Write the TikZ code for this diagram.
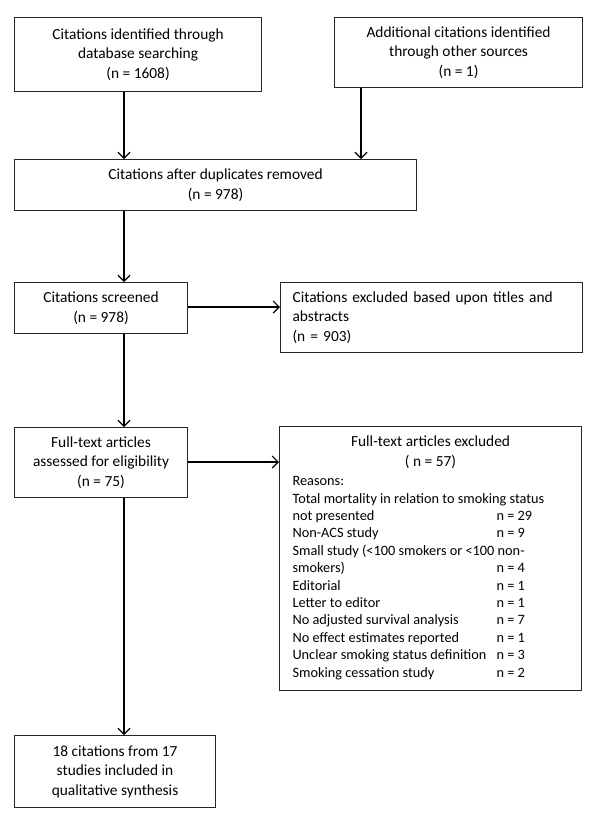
\documentclass[tikz,border=0pt]{standalone}
\usepackage{fontspec}
\setmainfont{Carlito}
\usepackage{array}
\usetikzlibrary{arrows.meta}
\begin{document}
\begin{tikzpicture}[x=1pt,y=-1pt,
  box/.style={draw=black!85, line width=1.1pt, inner sep=0pt, anchor=north west,
    font=\fontsize{15.4}{19.5}\selectfont, align=center},
  arr/.style={draw=black, line width=1.2pt,
    -{Straight Barb[length=6pt,width=12pt,line width=1.2pt]}}]
\useasboundingbox[fill=white] (0,0) rectangle (600,823);

\node[box, minimum width=247, minimum height=74] (b1) at (14,17)
  {Citations identified through\\database searching\\(n = 1608)};
\node[box, minimum width=248, minimum height=70] (b2) at (334,17)
  {Additional citations identified\\through other sources\\(n = 1)};
\node[box, minimum width=402, minimum height=51] (b3) at (14,159)
  {Citations after duplicates removed\\(n = 978)};
\node[box, minimum width=173, minimum height=51] (b4) at (14,282)
  {Citations screened\\(n = 978)};
\node[box, minimum width=302, minimum height=70, text width=278, inner xsep=12pt, align=left] (b5) at (280,282)
  {Citations excluded based upon titles and\\abstracts\\(n = 903)};
\node[box, minimum width=173, minimum height=70] (b6) at (14,427)
  {Full-text articles\\assessed for eligibility\\(n = 75)};
\node[box, minimum width=302, minimum height=264, font=\fontsize{14.3}{17.4}\selectfont] (b7) at (279,426)
  {\begin{tabular}{@{}p{204pt}@{}p{72pt}@{}}
  \multicolumn{2}{@{}c@{}}{\fontsize{15.4}{19.5}\selectfont Full-text articles excluded}\\[2.5pt]
  \multicolumn{2}{@{}c@{}}{\fontsize{15.4}{19.5}\selectfont ( n = 57)}\\[1.5pt]
  \multicolumn{2}{@{}l@{}}{Reasons:}\\
  \multicolumn{2}{@{}l@{}}{Total mortality in relation to smoking status}\\
  not presented & n = 29\\
  Non-ACS study & n = 9\\
  \multicolumn{2}{@{}l@{}}{Small study (<100 smokers or <100 non-}\\
  smokers) & n = 4\\
  Editorial & n = 1\\
  Letter to editor & n = 1\\
  No adjusted survival analysis & n = 7\\
  No effect estimates reported & n = 1\\
  Unclear smoking status definition & n = 3\\
  Smoking cessation study & n = 2
  \end{tabular}};
\node[box, minimum width=201, minimum height=72] (b8) at (14,735)
  {18 citations from 17\\studies included in\\qualitative synthesis};

\coordinate (cx) at (124,0);
\coordinate (cy) at (361,0);
\coordinate (r1) at (0,307);
\coordinate (r2) at (0,462);

\draw[arr] (b1.south -| cx) -- (b3.north -| cx);
\draw[arr] (b2.south -| cy) -- (b3.north -| cy);
\draw[arr] (b3.south -| cx) -- (b4.north -| cx);
\draw[arr] (b4.east |- r1) -- (b5.west |- r1);
\draw[arr] (b4.south -| cx) -- (b6.north -| cx);
\draw[arr] (b6.east |- r2) -- (b7.west |- r2);
\draw[arr] (b6.south -| cx) -- (b8.north -| cx);
\end{tikzpicture}
\end{document}
